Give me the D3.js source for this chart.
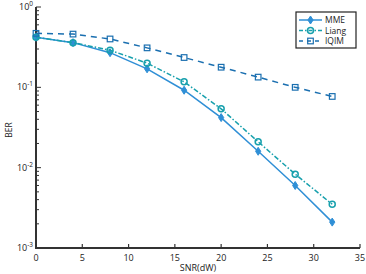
<!DOCTYPE html>
<html>
<head>
<meta charset="utf-8">
<title>BER vs SNR</title>
<script src="https://cdn.jsdelivr.net/npm/d3@7"></script>
<style>
  body { margin: 0; background: #fff; }
  text { font-family: "Open Sans", "DejaVu Sans", sans-serif; }
</style>
</head>
<body>
<script>
var w = 366, h = 274;
var snr = [0, 4, 8, 12, 16, 20, 24, 28, 32];
var mme = [0.42, 0.36, 0.27, 0.17, 0.092, 0.042, 0.016, 0.006, 0.0021];
var liang = [0.42, 0.36, 0.29, 0.20, 0.117, 0.054, 0.021, 0.0083, 0.0035];
var iqim = [0.47, 0.46, 0.40, 0.31, 0.235, 0.178, 0.134, 0.10, 0.077];
var xTicks = [0, 5, 10, 15, 20, 25, 30, 35];
var yTicks = [-3, -2, -1, 0];

var svg = d3.select("body").append("svg").attr("width", w).attr("height", h);

var x = d3.scaleLinear().domain([0, 35]).range([36, 360]);
var y = d3.scaleLog().domain([1e-3, 1]).range([248, 7]);

var axisCol = "#333";

// minor log ticks
var minors = [];
for (var e = -3; e < 0; e++) {
  for (var m = 2; m <= 9; m++) minors.push(m * Math.pow(10, e));
}
svg.selectAll("line.minor").data(minors).enter().append("line")
  .attr("x1", 36).attr("x2", 39)
  .attr("y1", function(d) { return y(d); }).attr("y2", function(d) { return y(d); })
  .attr("stroke", axisCol).attr("stroke-width", 1);

// major y ticks
svg.selectAll("line.ymaj").data(yTicks).enter().append("line")
  .attr("x1", 36).attr("x2", 41)
  .attr("y1", function(d) { return y(Math.pow(10, d)); }).attr("y2", function(d) { return y(Math.pow(10, d)); })
  .attr("stroke", axisCol).attr("stroke-width", 1);

var yl = svg.selectAll("text.ylab").data(yTicks).enter().append("text")
  .attr("x", 33).attr("y", function(d) { return y(Math.pow(10, d)) + 3; })
  .attr("text-anchor", "end").attr("font-size", 9).attr("fill", "#222");
yl.append("tspan").text("10");
yl.append("tspan").attr("dy", -4).attr("font-size", 6.5).text(function(d) { return d === 0 ? "0" : "-" + (-d); });

// x ticks
svg.selectAll("line.xt").data(xTicks).enter().append("line")
  .attr("x1", function(d) { return x(d); }).attr("x2", function(d) { return x(d); })
  .attr("y1", 248).attr("y2", 244)
  .attr("stroke", axisCol).attr("stroke-width", 1.2);
svg.selectAll("text.xl").data(xTicks).enter().append("text")
  .attr("x", function(d) { return x(d); }).attr("y", 261)
  .attr("text-anchor", "middle").attr("font-size", 9).attr("fill", "#222")
  .text(function(d) { return d; });

// axis lines
svg.append("line").attr("x1", 36).attr("x2", 36).attr("y1", 7).attr("y2", 249)
  .attr("stroke", axisCol).attr("stroke-width", 2);
svg.append("line").attr("x1", 35).attr("x2", 360).attr("y1", 248).attr("y2", 248)
  .attr("stroke", axisCol).attr("stroke-width", 2);

svg.append("text").attr("x", 198).attr("y", 271).attr("text-anchor", "middle")
  .attr("font-size", 9).attr("fill", "#222").text("SNR(dW)");
svg.append("text").attr("transform", "translate(12,130) rotate(-90)")
  .attr("text-anchor", "middle").attr("font-size", 8.5).attr("fill", "#222").text("BER");

var series = [
  { name: "MME", vals: mme, color: "#2f8fd6", dash: null, marker: "diamond" },
  { name: "Liang", vals: liang, color: "#17a0ad", dash: "5,2,1.5,2", marker: "circle" },
  { name: "IQIM", vals: iqim, color: "#1a6fb0", dash: "6,5", marker: "square" }
];

var line = d3.line()
  .x(function(d) { return x(d[0]); })
  .y(function(d) { return y(d[1]); });

function drawMarker(g, type, cx, cy, color) {
  if (type === "diamond") {
    g.append("path").attr("d", "M" + cx + "," + (cy - 4) + "L" + (cx + 2.6) + "," + cy + "L" + cx + "," + (cy + 4) + "L" + (cx - 2.6) + "," + cy + "Z")
      .attr("fill", color).attr("stroke", color).attr("stroke-width", 1);
  } else if (type === "circle") {
    g.append("circle").attr("cx", cx).attr("cy", cy).attr("r", 3)
      .attr("fill", "none").attr("stroke", color).attr("stroke-width", 1.5);
  } else {
    g.append("rect").attr("x", cx - 2.8).attr("y", cy - 2.8).attr("width", 5.6).attr("height", 5.6)
      .attr("fill", "none").attr("stroke", color).attr("stroke-width", 1.2);
  }
}

series.forEach(function(s) {
  var pts = snr.map(function(v, i) { return [v, s.vals[i]]; });
  svg.append("path").attr("d", line(pts)).attr("fill", "none")
    .attr("stroke", s.color).attr("stroke-width", 1.5)
    .attr("stroke-dasharray", s.dash);
  var g = svg.append("g");
  pts.forEach(function(p) { drawMarker(g, s.marker, x(p[0]), y(p[1]), s.color); });
});

// legend
var lg = svg.append("g");
lg.append("rect").attr("x", 296).attr("y", 12).attr("width", 60).attr("height", 36)
  .attr("fill", "#fff").attr("stroke", "#222").attr("stroke-width", 1.2);
series.forEach(function(s, i) {
  var ly = 20 + i * 10.5;
  lg.append("line").attr("x1", 299).attr("x2", 322).attr("y1", ly).attr("y2", ly)
    .attr("stroke", s.color).attr("stroke-width", 1.5)
    .attr("stroke-dasharray", s.dash ? (i === 1 ? "4,2,1.5,2" : "4,4") : null);
  drawMarker(lg, s.marker, 310.5, ly, s.color);
  lg.append("text").attr("x", 325).attr("y", ly + 3.2)
    .attr("font-family", "'Liberation Sans', sans-serif")
    .attr("font-size", 8.5).attr("fill", "#222").text(s.name);
});
</script>
</body>
</html>
